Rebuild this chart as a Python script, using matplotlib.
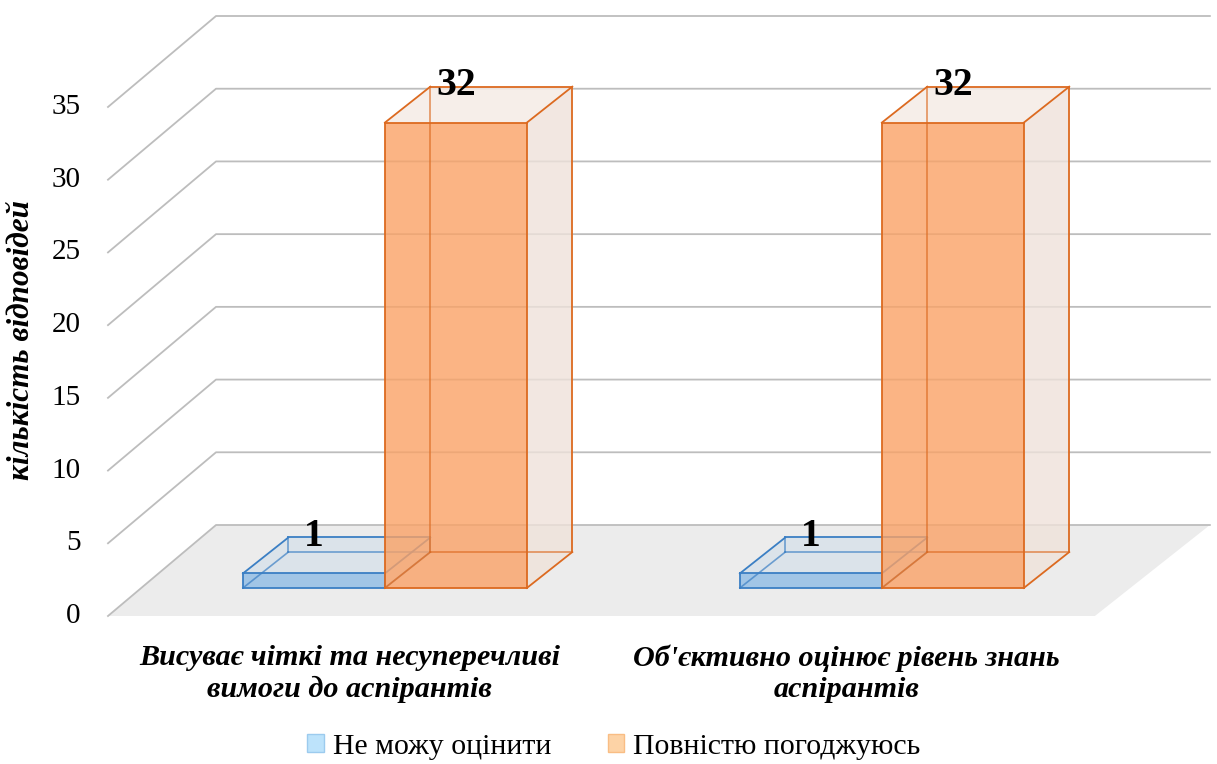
import matplotlib.pyplot as plt
from matplotlib.patches import Polygon, Patch

categories = ['Висуває чіткі та несуперечливі\nвимоги до аспірантів',
              "Об'єктивно оцінює рівень знань\nаспірантів"]
series = ['Не можу оцінити', 'Повністю погоджуюсь']
ne_mozhu = [1, 1]
povnistiu = [32, 32]
yticks = [0, 5, 10, 15, 20, 25, 30, 35]

plt.rcParams['font.family'] = ['Liberation Serif', 'DejaVu Serif']

# oblique projection of the excel 3d chart
DX = 0.2314   # depth shift in category units
DY = 6.257    # depth shift in value units
def P(x, y, z):
    return (x + (z - 0.5) * DX, y + z * DY)

fig = plt.figure(figsize=(12.17, 7.64), dpi=100)
ax = fig.add_axes([0, 0, 1, 1])
ax.axis('off')
ax.set_xlim(-0.819, 1.630)
ax.set_ylim(-148 / 14.543, 616 / 14.543)

x_lo, x_hi = -0.5, len(categories) - 0.5

# floor
floor = [P(x_lo + 0.014, 0, 0), P(x_hi, 0, 0), P(x_hi, 0, 1), P(x_lo, 0, 1)]
ax.add_patch(Polygon(floor, closed=True, fc='#ececec', ec='none', zorder=1))

# gridlines: side wall diagonals + back wall
for v in yticks:
    a, b, c = P(x_lo + 0.014, v, 0), P(x_lo, v, 1), P(x_hi, v, 1)
    ax.plot([a[0], b[0], c[0]], [a[1], b[1], c[1]], color='#bdbdbd', lw=1.3, zorder=2)
    ax.text(a[0] - 0.055, a[1], str(v), ha='right', va='center', fontsize=21)

bar_w = 0.2857
z0, z1 = 0.308, 0.703
styles = [
    dict(front='#9dc3e6', top='#d9e2ea', side='#dfe6ec', edge='#3b7fc4', alpha=0.95),
    dict(front='#faa266', top='#f5ece6', side='#efe2da', edge='#dc6a20', alpha=0.8),
]

def draw_bar(x0, h, st, zb):
    x1 = x0 + bar_w
    fbl, fbr = P(x0, 0, z0), P(x1, 0, z0)
    ftl, ftr = P(x0, h, z0), P(x1, h, z0)
    bbl, bbr = P(x0, 0, z1), P(x1, 0, z1)
    btl, btr = P(x0, h, z1), P(x1, h, z1)
    ec = st['edge']
    ax.add_patch(Polygon([fbr, bbr, btr, ftr], closed=True, fc=st['side'],
                         alpha=0.8, ec='none', zorder=zb))
    ax.add_patch(Polygon([ftl, ftr, btr, btl], closed=True, fc=st['top'],
                         alpha=0.85, ec='none', zorder=zb))
    ax.bar(fbl[0], h, bar_w, bottom=fbl[1], align='edge', color=st['front'],
           alpha=st['alpha'], edgecolor='none', zorder=zb + 1)
    # hidden edges show through the front face
    for p, q in [(bbl, btl), (bbl, bbr), (fbl, bbl)]:
        ax.plot([p[0], q[0]], [p[1], q[1]], color=ec, lw=1.2, alpha=0.7, zorder=zb + 2)
    for p, q in [(fbl, fbr), (fbr, ftr), (ftr, ftl), (ftl, fbl),
                 (ftl, btl), (btl, btr), (btr, ftr), (btr, bbr), (bbr, fbr)]:
        ax.plot([p[0], q[0]], [p[1], q[1]], color=ec, lw=1.3, zorder=zb + 3)
    lx = P(x0 + bar_w / 2, h, z0)[0]
    ly = P(x0, h, z1)[1]
    ax.text(lx, ly + 0.1, str(h), ha='center', va='center', fontsize=28.5,
            fontweight='bold', zorder=30)

for i in range(len(categories)):
    draw_bar(i - bar_w, ne_mozhu[i], styles[0], 3)
    draw_bar(i, povnistiu[i], styles[1], 10)
    cx = P(i, 0, 0)[0]
    ax.text(cx, -3.95, categories[i], ha='center', va='center', fontsize=21.7,
            fontweight='bold', fontstyle='italic', linespacing=1.2)

fig.text(22 / 1217, 1 - 340 / 764, 'кількість відповідей', rotation=90,
         ha='center', va='center', fontsize=22.5, fontweight='bold', fontstyle='italic')

handles = [Patch(fc='#bde3fb', ec='#9ccbee'), Patch(fc='#fdd3a6', ec='#f9bd84')]
fig.legend(handles, series, loc='center', bbox_to_anchor=(614 / 1217, 1 - 747 / 764),
           ncol=2, frameon=False, fontsize=21.5, handlelength=0.55, handleheight=0.55,
           handletextpad=0.3, columnspacing=1.9)

fig.savefig('out.png', dpi=100)
